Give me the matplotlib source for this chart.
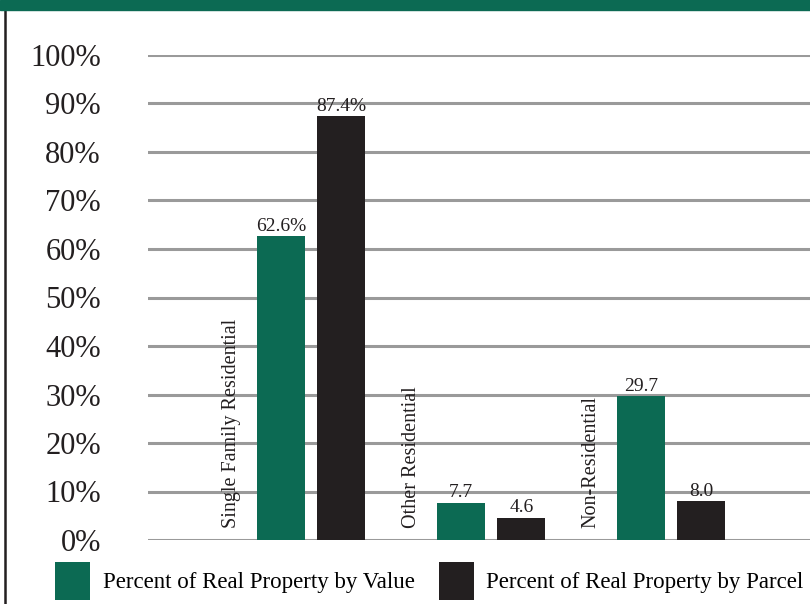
import matplotlib
matplotlib.use("Agg")
import matplotlib.pyplot as plt
from matplotlib.patches import Rectangle
from matplotlib.lines import Line2D
import numpy as np

# data
categories = ["Single Family Residential", "Other Residential", "Non-Residential"]
by_value = [62.6, 7.7, 29.7]
by_parcel = [87.4, 4.6, 8.0]
value_labels = ["62.6%", "7.7", "29.7"]
parcel_labels = ["87.4%", "4.6", "8.0"]
series_names = ["Percent of Real Property by Value", "Percent of Real Property by Parcel"]
yticks = list(range(0, 101, 10))

GREEN = "#0c6a53"
BLACK = "#231f20"
GRID = "#9a9a9a"

plt.rcParams["font.family"] = ["Liberation Serif", "DejaVu Serif"]

fig = plt.figure(figsize=(8.10, 6.04), dpi=100)
ax = fig.add_axes([148 / 810, 64 / 604, 662 / 810, 485 / 604])

x = np.arange(len(categories))
w = 0.267
off = 0.168
b1 = ax.bar(x - off, by_value, w, color=GREEN, label=series_names[0], zorder=3)
b2 = ax.bar(x + off, by_parcel, w, color=BLACK, label=series_names[1], zorder=3)
ax.bar_label(b1, labels=value_labels, padding=1, fontsize=14, color=BLACK)
ax.bar_label(b2, labels=parcel_labels, padding=1, fontsize=14, color=BLACK)

for xi, name in zip(x, categories):
    ax.text(xi - 0.444, 2.5, name, rotation=90, ha="center", va="bottom",
            fontsize=14.5, color=BLACK)

ax.set_xlim(-0.906, 2.772)
ax.set_ylim(0, 100)
ax.set_yticks(yticks)
ax.set_yticklabels([f"{t}%" for t in yticks], fontsize=22, color=BLACK)
ax.tick_params(axis="y", length=0, pad=34)
ax.set_xticks([])
for s in ax.spines.values():
    s.set_visible(False)
ax.yaxis.grid(True, color=GRID, linewidth=2.2, zorder=0)
ax.set_axisbelow(True)
ax.patch.set_alpha(0)

# header band and left rule
fig.add_artist(Rectangle((0, 594 / 604), 1, 10 / 604, transform=fig.transFigure,
                         color=GREEN, zorder=5))
fig.add_artist(Line2D([5 / 810, 5 / 810], [0, 594 / 604], transform=fig.transFigure,
                      color=BLACK, linewidth=1.8))

fig.legend(handles=[b1, b2], loc="lower left", bbox_to_anchor=(46 / 810, -0.008),
           ncol=2, frameon=False, fontsize=16.5, handlelength=1.53, handleheight=2.15,
           handletextpad=0.55, columnspacing=1.05, borderaxespad=0)

fig.savefig("out.png", dpi=100)
